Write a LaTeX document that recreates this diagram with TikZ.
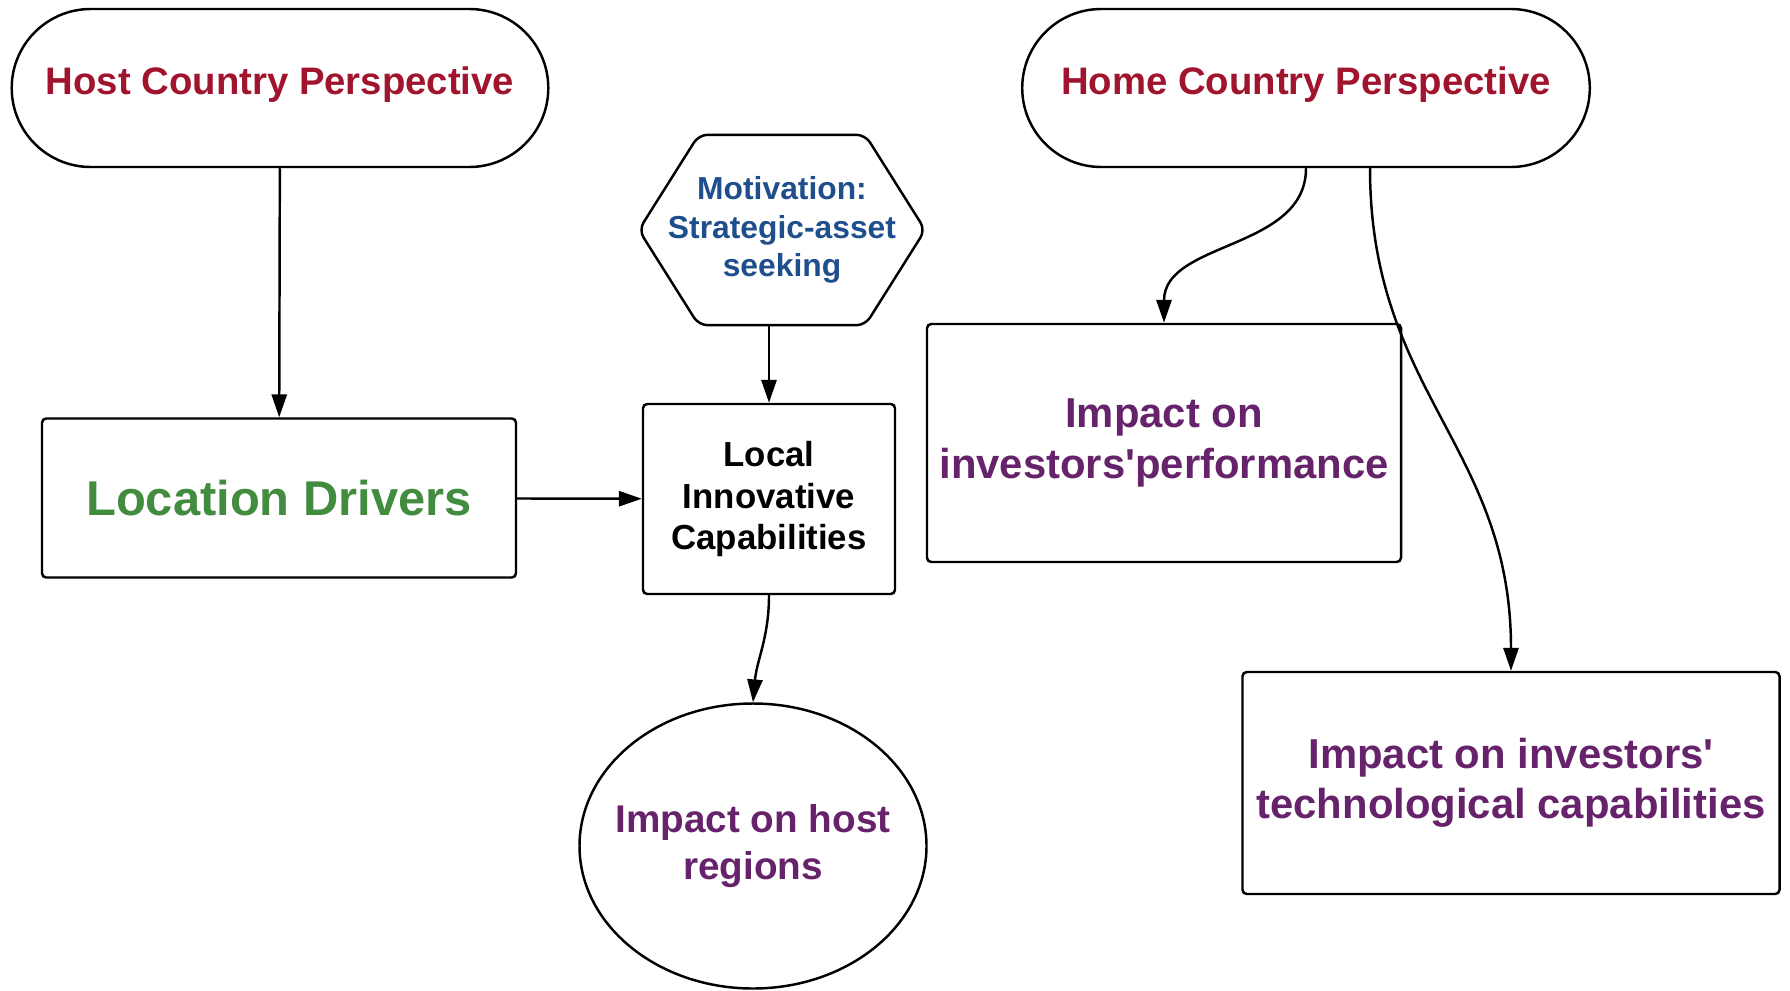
\documentclass[tikz,border=0pt]{standalone}
\usepackage{fontspec}
\setmainfont{Liberation Sans}
\usepackage{xcolor}
\usetikzlibrary{arrows.meta,shapes.misc,shapes.geometric}

\definecolor{perspred}{HTML}{A0142E}
\definecolor{drivgreen}{HTML}{428C3F}
\definecolor{motivblue}{HTML}{1F4E8C}
\definecolor{impactpurple}{HTML}{66226A}

\newcommand{\bsize}[1]{\fontsize{#1}{1.2\dimexpr#1pt\relax}\selectfont\bfseries}

\tikzset{
  every node/.style={align=center},
  outline/.style={draw, line width=0.7pt, fill=white},
  stadium/.style={outline, rounded rectangle, minimum height=1.58cm,
    text depth=0.15cm, font=\bsize{10.9}},
  block/.style={outline, rounded corners=1.2pt, inner sep=2pt},
  flow/.style={line width=0.7pt, -{Triangle[length=6.5pt,width=4.3pt]}}
}

\begin{document}
\begin{tikzpicture}
\useasboundingbox (0,0) rectangle (17.9,-9.9);

% perspectives
\node[stadium, minimum width=5.60cm, text=perspred] (host) at (2.80,-0.88)
  {Host Country Perspective};
\node[stadium, minimum width=5.91cm, text=perspred] (home) at (13.06,-0.88)
  {Home Country Perspective};

% motivation (hexagon drawn round the node)
\node[minimum width=2.85cm, minimum height=1.89cm, inner sep=0pt,
      font=\bsize{9.05}, text=motivblue] (motive) at (7.82,-2.30)
  {Motivation:\\Strategic-asset\\seeking};
\draw[line width=0.7pt, rounded corners=2.5pt] (motive.west)
  -- ([xshift=0.6cm]motive.north west) -- ([xshift=-0.6cm]motive.north east)
  -- (motive.east)
  -- ([xshift=-0.6cm]motive.south east) -- ([xshift=0.6cm]motive.south west)
  -- cycle;

% host side
\node[block, minimum width=4.74cm, minimum height=1.59cm, font=\bsize{13.9},
      text=drivgreen] (drivers) at (2.79,-4.98) {Location Drivers};
\node[block, minimum width=2.52cm, minimum height=1.90cm, font=\bsize{9.9}]
  (local) at (7.69,-4.99) {Local\\Innovative\\Capabilities};
\node[outline, ellipse, minimum width=3.47cm, minimum height=2.85cm,
      inner xsep=-5pt, inner ysep=0pt, font=\bsize{11}, text=impactpurple]
  (regions) at (7.53,-8.46) {Impact on host\\regions};

% home side
\node[block, minimum width=4.74cm, minimum height=2.38cm, font=\bsize{11.9},
      text=impactpurple] (perf) at (11.64,-4.43)
  {Impact on\\investors\textquotesingle performance};
\node[block, minimum width=5.37cm, minimum height=2.22cm, font=\bsize{11.9},
      text=impactpurple] (tech) at (15.11,-7.83)
  {Impact on investors\textquotesingle\\technological capabilities};

% links
\coordinate (homeout) at ([xshift=0.64cm]home.south);
\draw[flow] (host) -- (drivers);
\draw[flow] (drivers) -- (local);
\draw[flow] (local.north |- motive.south) -- (local.north);
\draw[flow] (local.south) to[out=-90,in=85] (regions.north);
\draw[flow] (home.south) to[out=-90,in=90] (perf.north);
\draw[flow] (homeout) to[out=-90,in=90,looseness=1.1] (tech.north);
\end{tikzpicture}
\end{document}
